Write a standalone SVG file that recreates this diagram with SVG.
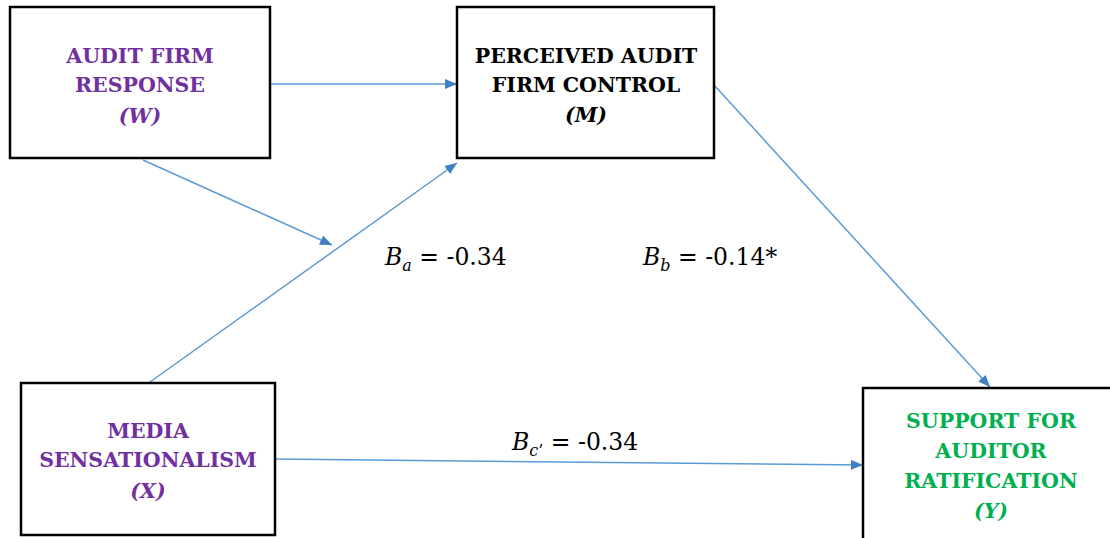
<svg xmlns="http://www.w3.org/2000/svg" width="1110" height="538" viewBox="0 0 1110 538">
<style>
.box{fill:#fff;stroke:#000;stroke-width:2.5}
.t{font-family:'DejaVu Serif',serif;font-weight:bold;font-size:20.5px;text-anchor:middle}
.i{font-style:italic}
.p{fill:#7030A0}
.k{fill:#000}
.g{fill:#00B050}
.c{stroke:#5B9BD5;stroke-width:1.5;fill:none;marker-end:url(#ah)}
.lab{font-family:'DejaVu Serif',serif;font-size:23.5px;fill:#000}
</style>
<defs>
<marker id="ah" viewBox="0 0 12 10" refX="12" refY="5" markerWidth="12" markerHeight="10" markerUnits="userSpaceOnUse" orient="auto">
<path d="M0,0 L12,5 L0,10 Z" fill="#3F7FC4"/>
</marker>
</defs>
<g id="connectors">
<line class="c" x1="270" y1="84" x2="457" y2="84"/>
<line class="c" x1="143" y1="160" x2="332" y2="245"/>
<line class="c" x1="150" y1="382" x2="457" y2="163"/>
<line class="c" x1="714" y1="85" x2="990" y2="387"/>
<line class="c" x1="275" y1="459" x2="863" y2="465"/>
</g>
<g id="nodeW">
<rect class="box" x="10" y="7" width="260" height="151"/>
<text class="t p" x="140" y="63">AUDIT FIRM</text>
<text class="t p" x="140" y="92">RESPONSE</text>
<text class="t p i" x="140" y="123">(W)</text>
</g>
<g id="nodeM">
<rect class="box" x="457" y="7" width="257" height="151"/>
<text class="t k" x="586" y="63">PERCEIVED AUDIT</text>
<text class="t k" x="586" y="92">FIRM CONTROL</text>
<text class="t k i" x="586" y="122">(M)</text>
</g>
<g id="nodeX">
<rect class="box" x="21" y="383" width="254" height="152"/>
<text class="t p" x="148" y="438">MEDIA</text>
<text class="t p" x="148" y="467">SENSATIONALISM</text>
<text class="t p i" x="148" y="498">(X)</text>
</g>
<g id="nodeY">
<rect class="box" x="863" y="388" width="260" height="160"/>
<text class="t g" x="991" y="428">SUPPORT FOR</text>
<text class="t g" x="991" y="458">AUDITOR</text>
<text class="t g" x="991" y="488">RATIFICATION</text>
<text class="t g i" x="991" y="518">(Y)</text>
</g>
<g id="labels">
<text class="lab" x="385" y="265"><tspan font-style="italic">B</tspan><tspan font-style="italic" font-size="16" dy="6">a</tspan><tspan dy="-6"> = -0.34</tspan></text>
<text class="lab" x="643" y="265"><tspan font-style="italic">B</tspan><tspan font-style="italic" font-size="16" dy="6">b</tspan><tspan dy="-6"> = -0.14*</tspan></text>
<text class="lab" x="512" y="450"><tspan font-style="italic">B</tspan><tspan font-style="italic" font-size="16" dy="6">c</tspan><tspan font-size="16">’</tspan><tspan dy="-6"> = -0.34</tspan></text>
</g>
</svg>
